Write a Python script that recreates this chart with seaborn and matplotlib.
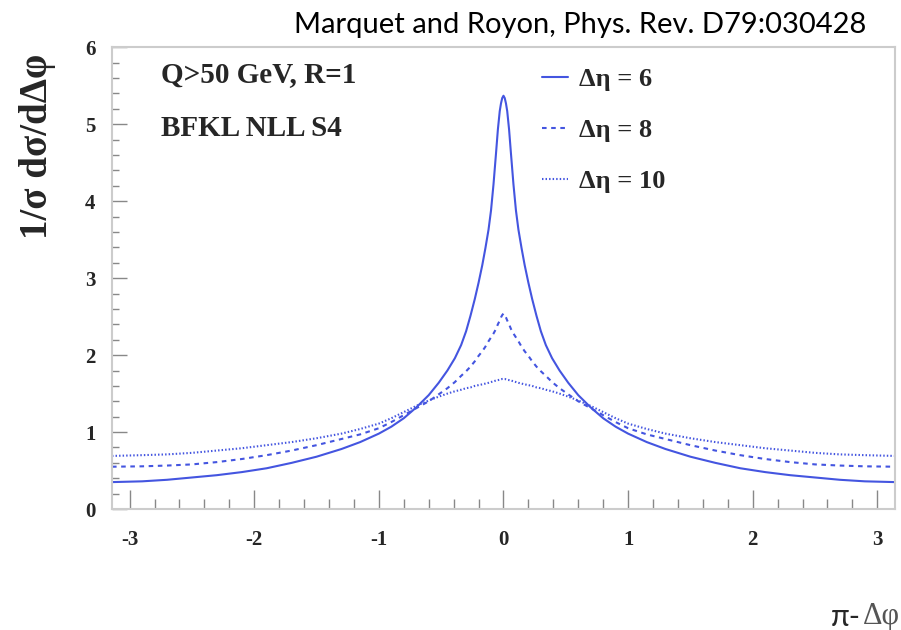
import matplotlib
matplotlib.use("Agg")
import matplotlib.pyplot as plt
from matplotlib.ticker import MultipleLocator
import pandas as pd
import seaborn as sns

# values for pi - delta phi >= 0;
# the curves are symmetric around 0 so the left half is the mirror image
dphi_half = [0.0, 0.01, 0.02, 0.03, 0.045, 0.06, 0.08, 0.1, 0.12, 0.145, 0.17, 0.2,
             0.23, 0.265, 0.3, 0.34, 0.39, 0.45, 0.52, 0.6, 0.7, 0.8, 0.9, 1.0,
             1.15, 1.3, 1.5, 1.7, 1.9, 2.1, 2.3, 2.5, 2.7, 2.9, 3.1416]

deta6_half = [5.37, 5.34, 5.27, 5.17, 4.93, 4.62, 4.22, 3.88, 3.63, 3.39, 3.17, 2.94,
              2.73, 2.51, 2.31, 2.13, 1.96, 1.80, 1.64, 1.48, 1.32, 1.18, 1.07, 0.98,
              0.87, 0.78, 0.68, 0.60, 0.53, 0.48, 0.44, 0.41, 0.38, 0.36, 0.35]

deta8_half = [2.54, 2.52, 2.49, 2.45, 2.40, 2.34, 2.28, 2.23, 2.18, 2.11, 2.05, 1.99,
              1.92, 1.85, 1.79, 1.73, 1.65, 1.57, 1.49, 1.40, 1.31, 1.22, 1.13, 1.05,
              0.97, 0.91, 0.83, 0.76, 0.70, 0.65, 0.61, 0.58, 0.565, 0.555, 0.55]

deta10_half = [1.69, 1.69, 1.685, 1.68, 1.675, 1.67, 1.66, 1.65, 1.64, 1.63, 1.62, 1.61,
               1.60, 1.58, 1.57, 1.55, 1.53, 1.50, 1.46, 1.41, 1.34, 1.26, 1.18, 1.11,
               1.04, 0.98, 0.92, 0.87, 0.83, 0.79, 0.76, 0.73, 0.71, 0.70, 0.69]

labels = ["Δη = 6", "Δη = 8", "Δη = 10"]
xtick_labels = ["-3", "-2", "-1", "0", "1", "2", "3"]
ytick_labels = ["0", "1", "2", "3", "4", "5", "6"]


def both_sides(half, negate=False):
    left = [-v for v in half[::-1][:-1]] if negate else half[::-1][:-1]
    return left + half


dphi = both_sides(dphi_half, negate=True)
frames = []
for lab, vals in zip(labels, [deta6_half, deta8_half, deta10_half]):
    frames.append(pd.DataFrame({"dphi": dphi, "val": both_sides(vals), "curve": lab}))
df = pd.concat(frames, ignore_index=True)

sns.set_style("white")
plt.rcParams["font.family"] = ["Liberation Serif", "DejaVu Serif"]

blue = "#4455e0"
serif_bold = {"family": "Liberation Serif", "weight": "bold"}

fig = plt.figure(figsize=(9.01, 6.30), dpi=100)
ax = fig.add_axes([0.1243, 0.192, 0.869, 0.733])

sns.lineplot(data=df, x="dphi", y="val", hue="curve", style="curve",
             palette={l: blue for l in labels},
             dashes={labels[0]: "", labels[1]: (2.2, 2.2), labels[2]: (0.7, 1.0)},
             linewidth=1.5, sort=False, estimator=None, ax=ax)

ax.set_xlim(-3.1416, 3.1416)
ax.set_ylim(0, 6)
ax.set_xlabel("")
ax.set_ylabel("")

ax.xaxis.set_minor_locator(MultipleLocator(0.2))
ax.yaxis.set_minor_locator(MultipleLocator(0.2))
ax.set_xticks(range(-3, 4))
ax.set_xticklabels(xtick_labels)
ax.set_yticks(range(0, 7))
ax.set_yticklabels(ytick_labels)

ax.tick_params(which="both", bottom=True, left=True, top=False, right=False)
ax.tick_params(axis="x", which="major", direction="in", length=14, width=1,
               color="#888888", pad=15, labelsize=15)
ax.tick_params(axis="x", which="minor", direction="in", length=7, width=1, color="#888888")
ax.tick_params(axis="y", which="major", direction="in", length=11, width=1,
               color="#888888", pad=12, labelsize=15)
ax.tick_params(axis="y", which="minor", direction="in", length=5, width=1, color="#888888")
for t in ax.get_xticklabels() + ax.get_yticklabels():
    t.set_fontweight("bold")
    t.set_family("Liberation Serif")

for side in ["left", "bottom", "top", "right"]:
    ax.spines[side].set_color("#cccccc")
    ax.spines[side].set_linewidth(1.5)

sns.move_legend(ax, "upper left", bbox_to_anchor=(0.6015, 0.893),
                bbox_transform=fig.transFigure, frameon=False, title=None,
                handlelength=1.0, handletextpad=0.4, labelspacing=1.05,
                borderpad=0, borderaxespad=0,
                prop={"family": "Liberation Serif", "weight": "bold", "size": 19})

ax.text(0.063, 0.94, "Q>50 GeV, R=1", transform=ax.transAxes, fontsize=21,
        va="center", ha="left", **serif_bold)
ax.text(0.063, 0.823, "BFKL NLL S4", transform=ax.transAxes, fontsize=21,
        va="center", ha="left", **serif_bold)

fig.text(0.042, 0.768, "1/σ dσ/dΔφ", rotation=90, fontsize=28,
         ha="center", va="center", **serif_bold)

fig.text(0.6435, 0.96, "Marquet and Royon, Phys. Rev. D79:030428", fontsize=21,
         family="Lato", ha="center", va="center", color="black")
fig.text(0.955, 0.021, "π-", fontsize=22, family="Lato", ha="right", va="center")
fig.text(0.958, 0.021, "Δφ", fontsize=22, family="Liberation Serif",
         ha="left", va="center", color="#555555")

fig.savefig("out.png", dpi=100)
